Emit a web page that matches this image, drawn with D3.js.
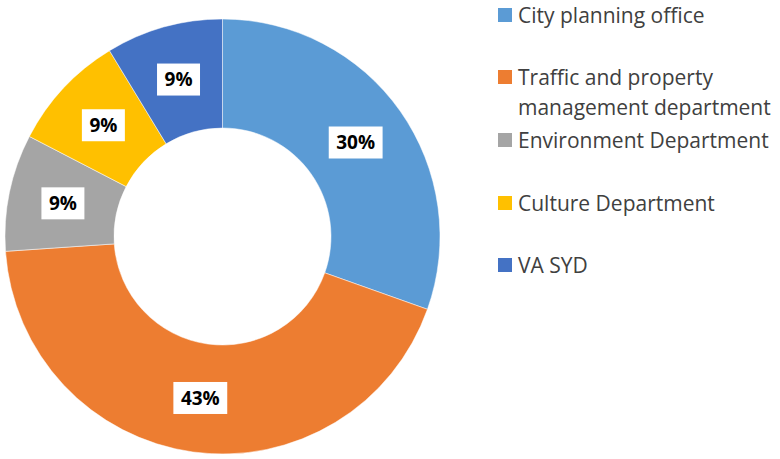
<!DOCTYPE html>
<html>
<head>
<meta charset="utf-8">
<script src="https://cdn.jsdelivr.net/npm/d3@7"></script>
<style>
  html, body { margin: 0; padding: 0; background: #fff; }
  svg { display: block; }
</style>
</head>
<body>
<svg id="chart" width="780" height="459"></svg>
<script>
// Data (shares; labels are the rounded percentages)
const categories = [
  "City planning office",
  "Traffic and property management department",
  "Environment Department",
  "Culture Department",
  "VA SYD"
];
const values = [7, 10, 2, 2, 2];
const colors = ["#5B9BD5", "#ED7D31", "#A5A5A5", "#FFC000", "#4472C4"];
const legendLines = [
  ["City planning office"],
  ["Traffic and property", "management department"],
  ["Environment Department"],
  ["Culture Department"],
  ["VA SYD"]
];

const svg = d3.select("#chart");
const cx = 222.5, cy = 236.5, rOuter = 217.5, rInner = 108.5;

const total = d3.sum(values);
const data = categories.map((c, i) => ({ cat: c, value: values[i], color: colors[i] }));

const pie = d3.pie().value(d => d.value).sort(null);
const arc = d3.arc().innerRadius(rInner).outerRadius(rOuter);
const arcs = pie(data);

const g = svg.append("g").attr("transform", `translate(${cx},${cy})`);
g.selectAll("path.slice")
  .data(arcs)
  .enter().append("path")
  .attr("class", "slice")
  .attr("d", arc)
  .attr("fill", d => d.data.color)
  .attr("stroke", "#fff")
  .attr("stroke-width", 0.5);

const fmt = v => Math.round(v / total * 100) + "%";
const labels = g.selectAll("g.lbl")
  .data(arcs)
  .enter().append("g")
  .attr("class", "lbl")
  .attr("transform", d => `translate(${arc.centroid(d)})`);

labels.each(function(d) {
  const sel = d3.select(this);
  const t = sel.append("text")
    .attr("text-anchor", "middle")
    .attr("dy", "0.36em")
    .attr("font-family", "'Open Sans', sans-serif")
    .attr("font-weight", "bold")
    .attr("font-size", 19)
    .attr("fill", "#000")
    .text(fmt(d.data.value));
  const bb = t.node().getBBox();
  const w = bb.width + 15, h = 32;
  sel.insert("rect", "text")
    .attr("x", -w / 2).attr("y", -h / 2)
    .attr("width", w).attr("height", h)
    .attr("fill", "#fff");
});

// Legend
const legX = 498, legTextX = 518;
const legY = [15, 77, 140, 203, 265];
const lineH = 30;
const leg = svg.append("g");
legendLines.forEach((lines, i) => {
  leg.append("rect")
    .attr("x", legX).attr("y", legY[i] - 7)
    .attr("width", 14).attr("height", 14)
    .attr("fill", colors[i]);
  const t = leg.append("text")
    .attr("x", legTextX)
    .attr("y", legY[i])
    .attr("dy", "0.36em")
    .attr("font-family", "'Open Sans', sans-serif")
    .attr("font-size", 21)
    .attr("fill", "#404040");
  lines.forEach((ln, j) => {
    t.append("tspan")
      .attr("x", legTextX)
      .attr("y", legY[i] + j * lineH)
      .attr("dy", "0.36em")
      .text(ln);
  });
});
</script>
</body>
</html>
